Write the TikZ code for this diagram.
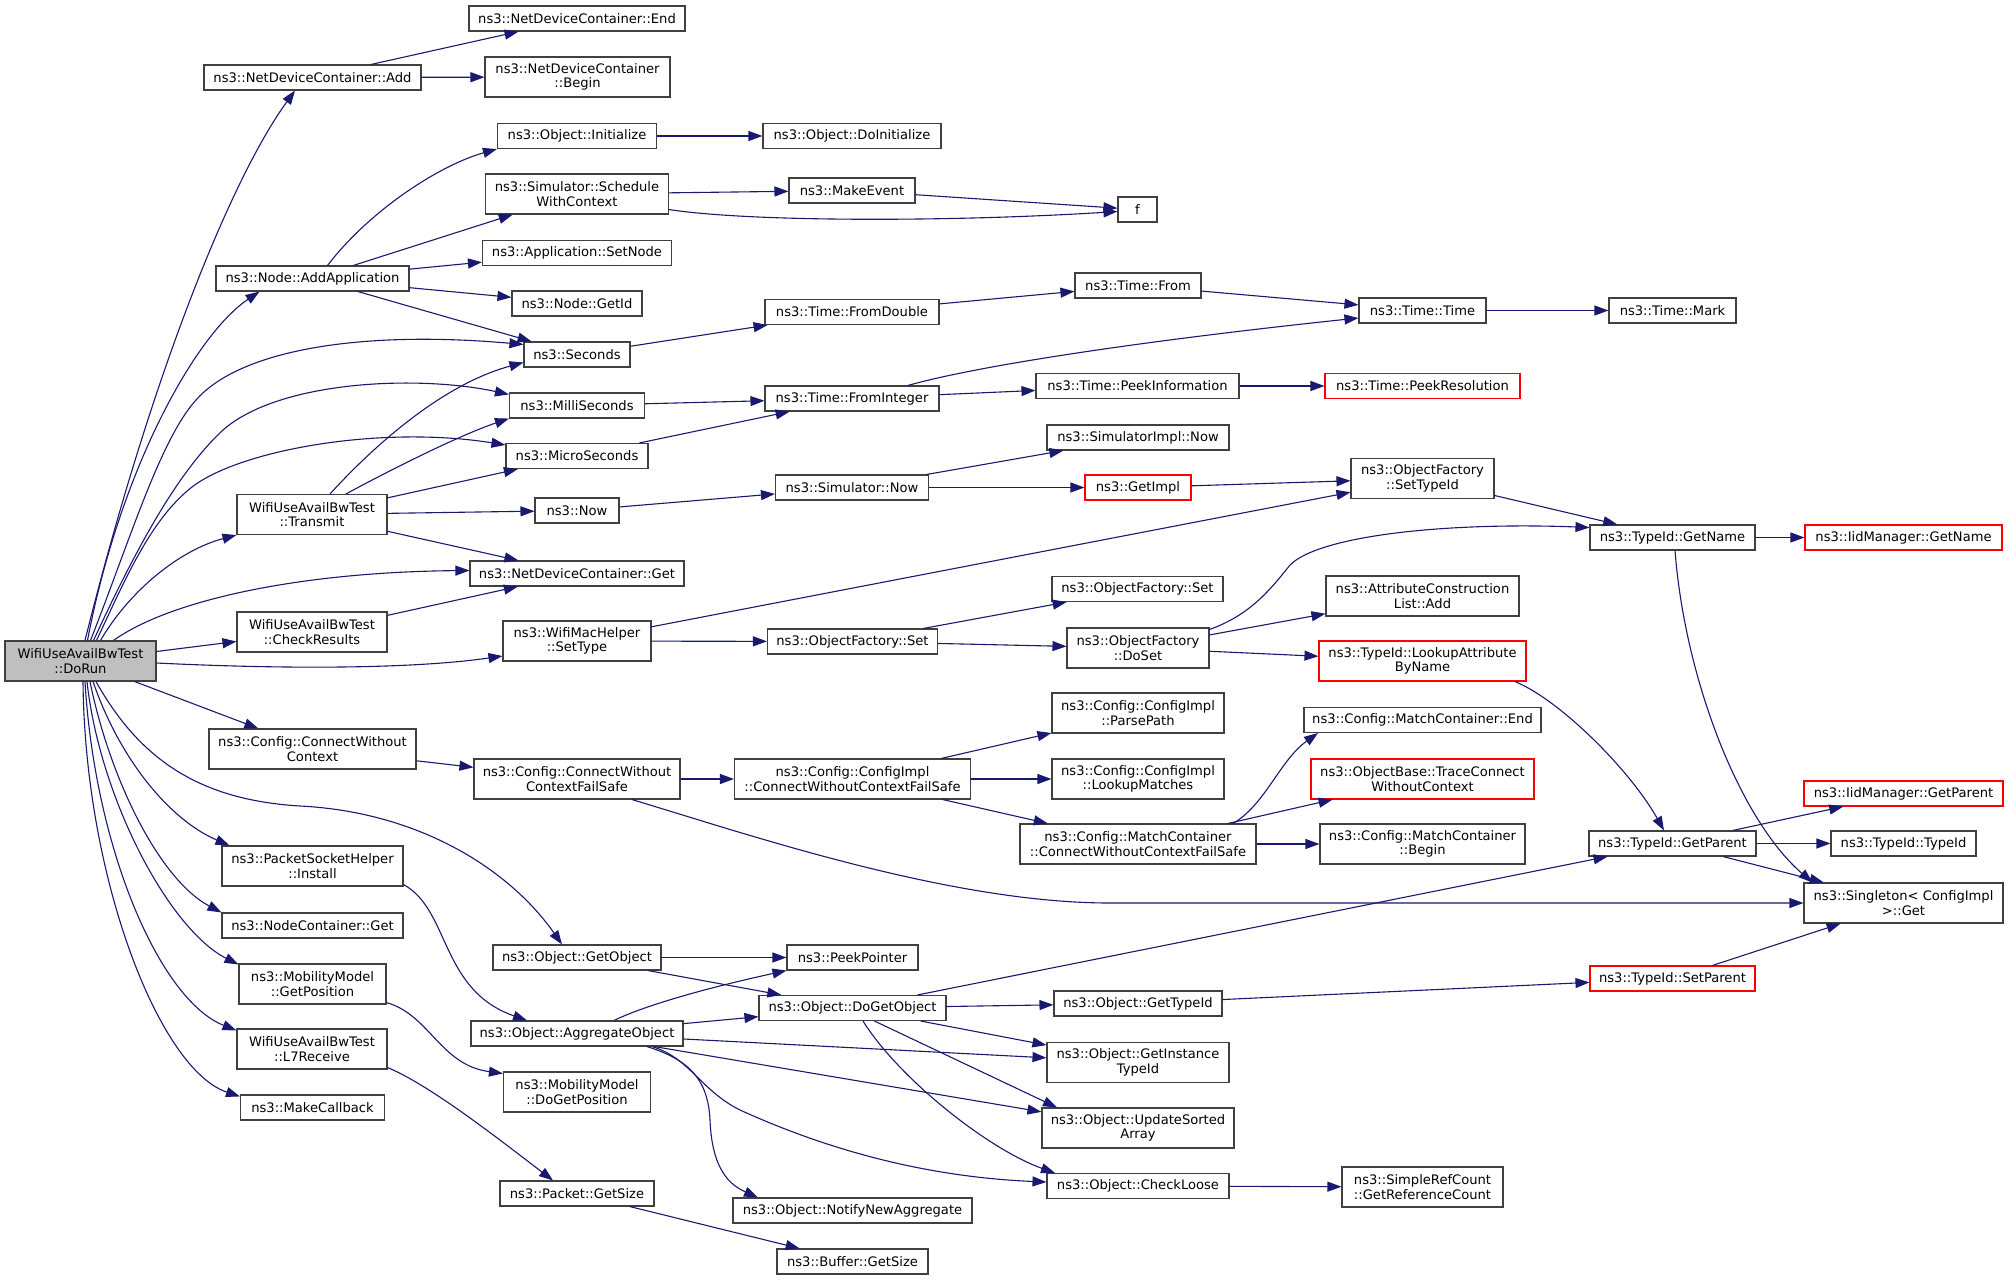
\documentclass[tikz,border=0pt]{standalone}
\usepackage{fontspec}
\setmainfont{DejaVu Sans}
\usetikzlibrary{arrows.meta}
\definecolor{callblue}{HTML}{191970}
\definecolor{boxgray}{HTML}{404040}
\definecolor{rootfill}{HTML}{BFBFBF}

\begin{document}
\begin{tikzpicture}[x=1pt,y=-1pt,
    fn/.style={draw=boxgray, line width=1.1pt, fill=white, inner sep=0pt,
      minimum height=25pt, align=center, font=\fontsize{13.1}{14.5}\selectfont},
    two/.style={minimum height=40pt},
    cut/.style={draw=red},
    root/.style={fill=rootfill},
    call/.style={draw=callblue, line width=1.1pt, -{Triangle[length=14pt,width=10pt]}}]
      \useasboundingbox (0,0) rectangle (2008,1280);

      % caller
      \node[fn, two, root, minimum width=151pt] (DoRun) at (80.5,661) {WifiUseAvailBwTest\\::DoRun};

      % second column
      \node[fn, minimum width=217pt] (NDCAdd) at (312.5,77.5) {ns3::NetDeviceContainer::Add};
      \node[fn, minimum width=193pt] (AddApp) at (312.5,278.5) {ns3::Node::AddApplication};
      \node[fn, two, minimum width=150pt] (Transmit) at (312,514.5) {WifiUseAvailBwTest\\::Transmit};
      \node[fn, two, minimum width=150pt] (CheckRes) at (312,632) {WifiUseAvailBwTest\\::CheckResults};
      \node[fn, two, minimum width=207pt] (CWC) at (312.5,749) {ns3::Config::ConnectWithout\\Context};
      \node[fn, two, minimum width=181pt] (PSHInstall) at (312.5,866) {ns3::PacketSocketHelper\\::Install};
      \node[fn, minimum width=181pt] (NCGet) at (312.5,925.5) {ns3::NodeContainer::Get};
      \node[fn, two, minimum width=147pt] (GetPos) at (312.5,984) {ns3::MobilityModel\\::GetPosition};
      \node[fn, two, minimum width=150pt] (L7Recv) at (312,1049) {WifiUseAvailBwTest\\::L7Receive};
      \node[fn, minimum width=144pt] (MakeCb) at (312.5,1107.5) {ns3::MakeCallback};

      % third column
      \node[fn, minimum width=216pt] (NDCEnd) at (577,18.5) {ns3::NetDeviceContainer::End};
      \node[fn, two, minimum width=185pt] (NDCBegin) at (577.5,77) {ns3::NetDeviceContainer\\::Begin};
      \node[fn, minimum width=159pt] (Init) at (577,136) {ns3::Object::Initialize};
      \node[fn, two, minimum width=183pt] (SWC) at (577,194) {ns3::Simulator::Schedule\\WithContext};
      \node[fn, minimum width=189pt] (SetNode) at (577,253) {ns3::Application::SetNode};
      \node[fn, minimum width=130pt] (GetId) at (577,303.5) {ns3::Node::GetId};
      \node[fn, minimum width=106pt] (Seconds) at (577,354.5) {ns3::Seconds};
      \node[fn, minimum width=135pt] (Milli) at (577,405.5) {ns3::MilliSeconds};
      \node[fn, minimum width=142pt] (Micro) at (577,456) {ns3::MicroSeconds};
      \node[fn, minimum width=84pt] (Now) at (577,510.5) {ns3::Now};
      \node[fn, minimum width=214pt] (NDCGet) at (577,573.5) {ns3::NetDeviceContainer::Get};
      \node[fn, two, minimum width=148pt] (SetType) at (577,641) {ns3::WifiMacHelper\\::SetType};
      \node[fn, two, minimum width=206pt] (CWCFS) at (577,779) {ns3::Config::ConnectWithout\\ContextFailSafe};
      \node[fn, minimum width=168pt] (GetObj) at (577,957.5) {ns3::Object::GetObject};
      \node[fn, minimum width=212pt] (AggObj) at (577,1033.5) {ns3::Object::AggregateObject};
      \node[fn, two, minimum width=147pt] (DoGetPos) at (577,1092) {ns3::MobilityModel\\::DoGetPosition};
      \node[fn, minimum width=154pt] (PktSize) at (577,1193.5) {ns3::Packet::GetSize};

      % fourth column
      \node[fn, minimum width=178pt] (DoInit) at (852,136) {ns3::Object::DoInitialize};
      \node[fn, minimum width=126pt] (MakeEv) at (852,190.5) {ns3::MakeEvent};
      \node[fn, minimum width=174pt] (FromDbl) at (852,312) {ns3::Time::FromDouble};
      \node[fn, minimum width=174pt] (FromInt) at (852,398.5) {ns3::Time::FromInteger};
      \node[fn, minimum width=153pt] (SimNow) at (852,487.5) {ns3::Simulator::Now};
      \node[fn, minimum width=170pt] (OFSet) at (852.5,641.5) {ns3::ObjectFactory::Set};
      \node[fn, two, minimum width=236pt] (CICWCFS) at (852.5,779) {ns3::Config::ConfigImpl\\::ConnectWithoutContextFailSafe};
      \node[fn, minimum width=131pt] (PeekPtr) at (852.5,957.5) {ns3::PeekPointer};
      \node[fn, minimum width=187pt] (DoGetObj) at (852.5,1008) {ns3::Object::DoGetObject};
      \node[fn, minimum width=239pt] (NotifyAgg) at (852.5,1210.5) {ns3::Object::NotifyNewAggregate};
      \node[fn, minimum width=151pt] (BufSize) at (852.5,1261.5) {ns3::Buffer::GetSize};

      % fifth column
      \node[fn, minimum width=39pt] (f) at (1137.5,209.5) {f};
      \node[fn, minimum width=126pt] (TimeFrom) at (1138,285.5) {ns3::Time::From};
      \node[fn, minimum width=203pt] (PeekInfo) at (1137.5,386) {ns3::Time::PeekInformation};
      \node[fn, minimum width=182pt] (SimImplNow) at (1138,437.5) {ns3::SimulatorImpl::Now};
      \node[fn, cut, minimum width=106pt] (GetImpl) at (1138,487.5) {ns3::GetImpl};
      \node[fn, minimum width=171pt] (OFSet2) at (1137.5,589) {ns3::ObjectFactory::Set};
      \node[fn, two, minimum width=142pt] (DoSet) at (1138,648) {ns3::ObjectFactory\\::DoSet};
      \node[fn, two, minimum width=172pt] (ParsePath) at (1138,713) {ns3::Config::ConfigImpl\\::ParsePath};
      \node[fn, two, minimum width=172pt] (Lookup) at (1138,779) {ns3::Config::ConfigImpl\\::LookupMatches};
      \node[fn, two, minimum width=236pt] (MCCWCFS) at (1138,844) {ns3::Config::MatchContainer\\::ConnectWithoutContextFailSafe};
      \node[fn, minimum width=168pt] (GetTypeId) at (1138,1003.5) {ns3::Object::GetTypeId};
      \node[fn, two, minimum width=182pt] (GetInst) at (1138,1062.5) {ns3::Object::GetInstance\\TypeId};
      \node[fn, two, minimum width=192pt] (UpdSorted) at (1138,1128) {ns3::Object::UpdateSorted\\Array};
      \node[fn, minimum width=182pt] (CheckLoose) at (1138,1186) {ns3::Object::CheckLoose};

      % sixth column
      \node[fn, minimum width=127pt] (TimeTime) at (1422.5,310.5) {ns3::Time::Time};
      \node[fn, cut, minimum width=195pt] (PeekRes) at (1422.5,386) {ns3::Time::PeekResolution};
      \node[fn, two, minimum width=143pt] (SetTypeId) at (1422.5,478.5) {ns3::ObjectFactory\\::SetTypeId};
      \node[fn, two, minimum width=193pt] (AttrAdd) at (1422.5,596) {ns3::AttributeConstruction\\List::Add};
      \node[fn, two, cut, minimum width=207pt] (LookupAttr) at (1422.5,661) {ns3::TypeId::LookupAttribute\\ByName};
      \node[fn, minimum width=237pt] (MCEnd) at (1422.5,720) {ns3::Config::MatchContainer::End};
      \node[fn, two, cut, minimum width=223pt] (TraceConn) at (1422.5,779) {ns3::ObjectBase::TraceConnect\\WithoutContext};
      \node[fn, two, minimum width=205pt] (MCBegin) at (1422.5,844) {ns3::Config::MatchContainer\\::Begin};
      \node[fn, two, minimum width=161pt] (RefCount) at (1422.5,1187) {ns3::SimpleRefCount\\::GetReferenceCount};

      % last columns
      \node[fn, minimum width=127pt] (TimeMark) at (1672.5,310.5) {ns3::Time::Mark};
      \node[fn, minimum width=165pt] (GetName) at (1672.5,537.5) {ns3::TypeId::GetName};
      \node[fn, minimum width=167pt] (GetParent) at (1672.5,843.5) {ns3::TypeId::GetParent};
      \node[fn, cut, minimum width=165pt] (SetParent) at (1672.5,978.5) {ns3::TypeId::SetParent};
      \node[fn, cut, minimum width=197pt] (IidGetName) at (1903.5,537.5) {ns3::IidManager::GetName};
      \node[fn, cut, minimum width=199pt] (IidGetParent) at (1903.5,793.5) {ns3::IidManager::GetParent};
      \node[fn, minimum width=145pt] (TypeIdCtor) at (1903.5,843.5) {ns3::TypeId::TypeId};
      \node[fn, two, minimum width=199pt] (Singleton) at (1903.5,903) {ns3::Singleton< ConfigImpl\\>::Get};

      % straight calls
      \foreach \a/\b in {DoRun/CheckRes, DoRun/CWC, NDCAdd/NDCEnd, NDCAdd/NDCBegin,
          AddApp/SWC, AddApp/SetNode, AddApp/GetId, AddApp/Seconds, Init/DoInit,
          SWC/MakeEv, MakeEv/f, Seconds/FromDbl, Milli/FromInt, Micro/FromInt,
          Transmit/Micro, Transmit/Now, Transmit/NDCGet, CheckRes/NDCGet, Now/SimNow,
          SetType/SetTypeId, SetType/OFSet, CWC/CWCFS, CWCFS/CICWCFS, GetObj/PeekPtr,
          GetObj/DoGetObj, AggObj/DoGetObj, AggObj/GetInst, AggObj/UpdSorted,
          PktSize/BufSize, FromDbl/TimeFrom, TimeFrom/TimeTime, FromInt/PeekInfo,
          PeekInfo/PeekRes, TimeTime/TimeMark, SimNow/SimImplNow, SimNow/GetImpl,
          GetImpl/SetTypeId, OFSet/OFSet2, OFSet/DoSet, DoSet/AttrAdd, DoSet/LookupAttr,
          CICWCFS/ParsePath, CICWCFS/Lookup, CICWCFS/MCCWCFS, MCCWCFS/TraceConn,
          MCCWCFS/MCBegin, SetTypeId/GetName, GetName/IidGetName, GetParent/IidGetParent,
          GetParent/TypeIdCtor, GetParent/Singleton, SetParent/Singleton,
          GetTypeId/SetParent, DoGetObj/GetParent, DoGetObj/GetTypeId, DoGetObj/GetInst,
          CheckLoose/RefCount}{
          \draw[call] (\a) -- (\b);
      }

      % curved calls out of DoRun
      \draw[call] ([xshift=4.5pt]DoRun.north) .. controls (150,380) and (230,180) .. ([xshift=-17.5pt]NDCAdd.south);
      \draw[call] ([xshift=7pt]DoRun.north) .. controls (120,470) and (195,335) .. ([xshift=-53pt]AddApp.south);
      \draw[call] ([xshift=10pt]DoRun.north) .. controls (130,540) and (160,440) .. (196,400)
          .. controls (240,350) and (360,330) .. ([yshift=-3pt]Seconds.north west);
      \draw[call] ([xshift=13pt]DoRun.north) .. controls (140,540) and (180,470) .. (223,430)
          .. controls (280,380) and (420,375) .. ([yshift=-2pt]Milli.north west);
      \draw[call] ([xshift=16pt]DoRun.north) .. controls (125,580) and (150,520) .. (192,487)
          .. controls (240,450) and (380,425) .. ([yshift=-2pt]Micro.north west);
      \draw[call] ([xshift=20pt]DoRun.north) .. controls (130,590) and (180,550) .. (Transmit.south west);
      \draw[call] ([xshift=33pt]DoRun.north) .. controls (170,600) and (300,572) .. ([yshift=3pt]NDCGet.west);
      \draw[call] ([yshift=-2pt]DoRun.east) .. controls (300,670) and (420,668) .. ([yshift=-15pt]SetType.west);
      \draw[call] ([xshift=15.5pt]DoRun.south) .. controls (140,760) and (200,800) .. (300,806)
          .. controls (420,812) and (510,870) .. ([xshift=-15pt]GetObj.north);
      \draw[call] ([xshift=12.5pt]DoRun.south) .. controls (120,760) and (170,820) .. ([xshift=8pt]PSHInstall.north west);
      \draw[call] ([xshift=9.5pt]DoRun.south) .. controls (110,780) and (160,880) .. (NCGet.north west);
      \draw[call] ([xshift=6.5pt]DoRun.south) .. controls (100,800) and (170,930) .. ([yshift=-1pt]GetPos.north west);
      \draw[call] ([xshift=4.5pt]DoRun.south) .. controls (95,850) and (160,1000) .. ([yshift=-2pt]L7Recv.north west);
      \draw[call] ([xshift=2.5pt]DoRun.south) .. controls (85,880) and (160,1070) .. ([yshift=-2pt]MakeCb.north west);

      % other curved calls
      \draw[call] ([xshift=15pt]AddApp.north) .. controls (370,210) and (440,165) .. (Init.south west);
      \draw[call] ([yshift=5pt]SWC.south east) .. controls (750,222) and (950,222) .. ([yshift=-2pt]f.west);
      \draw[call] ([xshift=18pt]Transmit.north) .. controls (370,450) and (440,385) .. ([yshift=-8pt]Seconds.west);
      \draw[call] ([xshift=34pt]Transmit.north) .. controls (390,470) and (460,435) .. (Milli.south west);
      \draw[call] ([xshift=55pt]CWCFS.south) .. controls (750,835) and (950,903) .. (1110,903) -- (Singleton.west);
      \draw[call] ([yshift=2pt]PSHInstall.south east) .. controls (450,910) and (440,990) .. ([xshift=-50pt]AggObj.north);
      \draw[call] ([yshift=2pt]GetPos.south east) .. controls (430,1015) and (440,1065) .. ([yshift=-2pt]DoGetPos.north west);
      \draw[call] ([yshift=2pt]L7Recv.south east) .. controls (430,1085) and (500,1140) .. ([xshift=-24pt]PktSize.north);
      \draw[call] ([xshift=37pt]AggObj.north) .. controls (650,1003) and (720,985) .. (PeekPtr.south west);
      \draw[call] ([xshift=75pt]AggObj.south) .. controls (690,1058) and (700,1090) .. (740,1110)
          .. controls (850,1160) and (950,1178) .. ([yshift=4pt]CheckLoose.west);
      \draw[call] ([xshift=70pt]AggObj.south) .. controls (690,1060) and (708,1080) .. (710,1120)
          .. controls (712,1170) and (730,1185) .. ([xshift=-94.5pt]NotifyAgg.north);
      \draw[call] ([xshift=22pt]DoGetObj.south) -- ([xshift=-81pt]UpdSorted.north);
      \draw[call] ([xshift=10.5pt]DoGetObj.south) .. controls (900,1080) and (990,1150) .. ([xshift=-83pt]CheckLoose.north);
      \draw[call] ([xshift=56pt]FromInt.north) .. controls (980,365) and (1150,340) .. ([yshift=-7.5pt]TimeTime.west);
      \draw[call] ([yshift=-2pt]DoSet.north east) .. controls (1250,615) and (1270,590) .. (1290,565)
          .. controls (1320,535) and (1450,522) .. ([yshift=10pt]GetName.west);
      \draw[call] ([xshift=95pt]MCCWCFS.north) .. controls (1265,805) and (1280,760) .. ([xshift=-104.5pt]MCEnd.south);
      \draw[call] ([xshift=2.5pt]GetName.south) .. controls (1685,680) and (1740,820) .. ([xshift=9pt]Singleton.north west);
      \draw[call] ([xshift=92.5pt]LookupAttr.south) .. controls (1560,700) and (1630,770) .. ([xshift=-8.5pt]GetParent.north);
  \end{tikzpicture}
\end{document}
